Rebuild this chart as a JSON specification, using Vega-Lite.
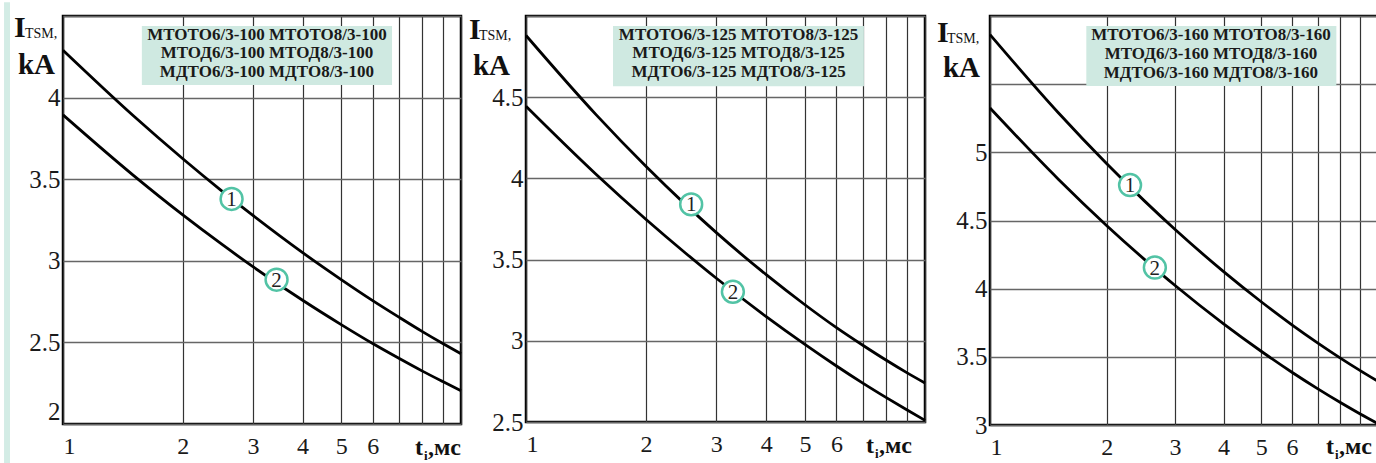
{
  "$schema": "https://vega.github.io/schema/vega-lite/v6.json",
  "background": "white",
  "padding": {"left": 2, "top": 0, "right": 0, "bottom": 0},
  "spacing": 65,
  "bounds": "flush",
  "config": {
    "view": {"stroke": "#000", "strokeWidth": 2.5},
    "font": "Liberation Serif, Times New Roman, serif",
    "axis": {"grid": true, "ticks": false, "domain": false, "labelFont": "Liberation Serif, Times New Roman, serif", "labelColor": "#1a1a1a", "format": "~g"},
    "axisX": {"labelPadding": 10, "labelFontSize": 24, "gridColor": "#333", "gridWidth": 1.2},
    "axisY": {"labelPadding": 3, "labelFontSize": 25, "gridColor": "#666", "gridWidth": 1.5},
    "text": {"font": "Liberation Serif, Times New Roman, serif"}
  },
  "hconcat": [
    {
      "width": 398, "height": 408,
      "encoding": {
        "x": {"field": "t", "type": "quantitative", "scale": {"type": "log", "domain": [1, 10], "nice": false}, "axis": {"values": [1,2,3,4,5,6,7,8,9,10], "labelExpr": "datum.value <= 6.5 ? datum.label : ''", "labelFlush": true, "title": null}},
        "y": {"field": "I", "type": "quantitative", "scale": {"domain": [2, 4.5], "nice": false, "zero": false}, "axis": {"values": [2,2.5,3,3.5,4,4.5], "labelExpr": "datum.value < 4.4 ? datum.label : ''", "labelFlush": true, "title": null}}
      },
      "layer": [
        {"data": {"values": [{"t": 0.711, "t2": 0.736, "I": 1.75, "I2": 4.585}]}, "mark": {"type": "rect", "fill": "#d3ece5"}, "encoding": {"x2": {"field": "t2"}, "y2": {"field": "I2"}}},
        {"data": {"values": [{"t": 1.578, "t2": 6.71, "I": 4.077, "I2": 4.439}]}, "mark": {"type": "rect", "fill": "#cfe9e1"}, "encoding": {"x2": {"field": "t2"}, "y2": {"field": "I2"}}},
        {"data": {"values": [
          {"c": "1", "t": 1, "I": 4.29}, {"c": "1", "t": 1.5, "I": 3.89}, {"c": "1", "t": 2, "I": 3.625}, {"c": "1", "t": 2.5, "I": 3.43}, {"c": "1", "t": 3, "I": 3.278}, {"c": "1", "t": 4, "I": 3.05}, {"c": "1", "t": 5, "I": 2.885}, {"c": "1", "t": 6, "I": 2.756}, {"c": "1", "t": 7, "I": 2.653}, {"c": "1", "t": 8, "I": 2.566}, {"c": "1", "t": 9, "I": 2.493}, {"c": "1", "t": 10, "I": 2.43},
          {"c": "2", "t": 1, "I": 3.894}, {"c": "2", "t": 1.5, "I": 3.525}, {"c": "2", "t": 2, "I": 3.281}, {"c": "2", "t": 2.5, "I": 3.103}, {"c": "2", "t": 3, "I": 2.964}, {"c": "2", "t": 4, "I": 2.758}, {"c": "2", "t": 5, "I": 2.609}, {"c": "2", "t": 6, "I": 2.493}, {"c": "2", "t": 7, "I": 2.401}, {"c": "2", "t": 8, "I": 2.324}, {"c": "2", "t": 9, "I": 2.26}, {"c": "2", "t": 10, "I": 2.204}
        ]}, "mark": {"type": "line", "color": "#000", "strokeWidth": 2.8, "interpolate": "monotone"}, "encoding": {"detail": {"field": "c"}}},
        {"data": {"values": [{"t": 2.652, "I": 3.379, "n": "1"}, {"t": 3.44, "I": 2.884, "n": "2"}]}, "mark": {"type": "point", "shape": "circle", "fill": "white", "fillOpacity": 1, "stroke": "#52c3a5", "strokeWidth": 2.5, "size": 480, "opacity": 1}},
        {"data": {"values": [{"t": 2.652, "I": 3.379, "n": "1"}, {"t": 3.44, "I": 2.884, "n": "2"}]}, "mark": {"type": "text", "fontSize": 21, "color": "#222", "baseline": "middle", "dy": 1}, "encoding": {"text": {"field": "n"}}},
        {"data": {"values": [{"t": 3.254, "I": 4.385, "label": "МТОТО6/3-100 МТОТО8/3-100\nМТОД6/3-100 МТОД8/3-100\nМДТО6/3-100 МДТО8/3-100"}]}, "mark": {"type": "text", "fontWeight": "bold", "fontSize": 17, "lineBreak": "\n", "lineHeight": 18.7, "baseline": "middle", "align": "center", "color": "#1a1a1a"}, "encoding": {"text": {"field": "label"}}},
        {"data": {"values": [{"t": 1, "I": 4.5, "s": "I"}]}, "mark": {"type": "text", "fontWeight": "bold", "fontSize": 30, "align": "left", "baseline": "alphabetic", "dx": -49, "dy": 21, "color": "#111"}, "encoding": {"text": {"field": "s"}}},
        {"data": {"values": [{"t": 1, "I": 4.5, "s": "TSM,"}]}, "mark": {"type": "text", "fontSize": 14, "align": "left", "baseline": "alphabetic", "dx": -38, "dy": 22, "color": "#111"}, "encoding": {"text": {"field": "s"}}},
        {"data": {"values": [{"t": 1, "I": 4.5, "s": "kA"}]}, "mark": {"type": "text", "fontWeight": "bold", "fontSize": 29, "align": "right", "baseline": "alphabetic", "dx": -8, "dy": 58, "color": "#111"}, "encoding": {"text": {"field": "s"}}},
        {"data": {"values": [{"t": 10, "I": 2, "s": "t"}]}, "mark": {"type": "text", "fontWeight": "bold", "fontSize": 24, "align": "left", "baseline": "alphabetic", "dx": -46, "dy": 31, "color": "#111"}, "encoding": {"text": {"field": "s"}}},
        {"data": {"values": [{"t": 10, "I": 2, "s": "i"}]}, "mark": {"type": "text", "fontWeight": "bold", "fontSize": 13, "align": "left", "baseline": "alphabetic", "dx": -37, "dy": 36, "color": "#111"}, "encoding": {"text": {"field": "s"}}},
        {"data": {"values": [{"t": 10, "I": 2, "s": ",мс"}]}, "mark": {"type": "text", "fontWeight": "bold", "fontSize": 24, "align": "left", "baseline": "alphabetic", "dx": -33, "dy": 31, "color": "#111"}, "encoding": {"text": {"field": "s"}}}
      ]
    },
    {
      "width": 399, "height": 406,
      "encoding": {
        "x": {"field": "t", "type": "quantitative", "scale": {"type": "log", "domain": [1, 10], "nice": false}, "axis": {"values": [1,2,3,4,5,6,7,8,9,10], "labelExpr": "datum.value <= 6.5 ? datum.label : ''", "labelFlush": true, "title": null}},
        "y": {"field": "I", "type": "quantitative", "scale": {"domain": [2.5, 5], "nice": false, "zero": false}, "axis": {"values": [2.5,3,3.5,4,4.5,5], "labelExpr": "datum.value < 4.9 ? datum.label : ''", "title": null}}
      },
      "layer": [
        {"data": {"values": [{"t": 1.652, "t2": 7.03, "I": 4.567, "I2": 4.938}]}, "mark": {"type": "rect", "fill": "#cfe9e1"}, "encoding": {"x2": {"field": "t2"}, "y2": {"field": "I2"}}},
        {"data": {"values": [
          {"c": "1", "t": 1, "I": 4.88}, {"c": "1", "t": 1.5, "I": 4.391}, {"c": "1", "t": 2, "I": 4.073}, {"c": "1", "t": 2.5, "I": 3.843}, {"c": "1", "t": 3, "I": 3.666}, {"c": "1", "t": 4, "I": 3.407}, {"c": "1", "t": 5, "I": 3.222}, {"c": "1", "t": 6, "I": 3.081}, {"c": "1", "t": 7, "I": 2.971}, {"c": "1", "t": 8, "I": 2.88}, {"c": "1", "t": 9, "I": 2.804}, {"c": "1", "t": 10, "I": 2.74},
          {"c": "2", "t": 1, "I": 4.444}, {"c": "2", "t": 1.5, "I": 4.024}, {"c": "2", "t": 2, "I": 3.747}, {"c": "2", "t": 2.5, "I": 3.544}, {"c": "2", "t": 3, "I": 3.385}, {"c": "2", "t": 4, "I": 3.149}, {"c": "2", "t": 5, "I": 2.978}, {"c": "2", "t": 6, "I": 2.845}, {"c": "2", "t": 7, "I": 2.738}, {"c": "2", "t": 8, "I": 2.65}, {"c": "2", "t": 9, "I": 2.575}, {"c": "2", "t": 10, "I": 2.51}
        ]}, "mark": {"type": "line", "color": "#000", "strokeWidth": 2.8, "interpolate": "monotone"}, "encoding": {"detail": {"field": "c"}}},
        {"data": {"values": [{"t": 2.594, "I": 3.84, "n": "1"}, {"t": 3.30, "I": 3.302, "n": "2"}]}, "mark": {"type": "point", "shape": "circle", "fill": "white", "fillOpacity": 1, "stroke": "#52c3a5", "strokeWidth": 2.5, "size": 480, "opacity": 1}},
        {"data": {"values": [{"t": 2.594, "I": 3.84, "n": "1"}, {"t": 3.30, "I": 3.302, "n": "2"}]}, "mark": {"type": "text", "fontSize": 21, "color": "#222", "baseline": "middle", "dy": 1}, "encoding": {"text": {"field": "n"}}},
        {"data": {"values": [{"t": 3.41, "I": 4.885, "label": "МТОТО6/3-125 МТОТО8/3-125\nМТОД6/3-125 МТОД8/3-125\nМДТО6/3-125 МДТО8/3-125"}]}, "mark": {"type": "text", "fontWeight": "bold", "fontSize": 17, "lineBreak": "\n", "lineHeight": 18.7, "baseline": "middle", "align": "center", "color": "#1a1a1a"}, "encoding": {"text": {"field": "label"}}},
        {"data": {"values": [{"t": 1, "I": 5, "s": "I"}]}, "mark": {"type": "text", "fontWeight": "bold", "fontSize": 30, "align": "left", "baseline": "alphabetic", "dx": -57, "dy": 23, "color": "#111"}, "encoding": {"text": {"field": "s"}}},
        {"data": {"values": [{"t": 1, "I": 5, "s": "TSM,"}]}, "mark": {"type": "text", "fontSize": 14, "align": "left", "baseline": "alphabetic", "dx": -47, "dy": 24, "color": "#111"}, "encoding": {"text": {"field": "s"}}},
        {"data": {"values": [{"t": 1, "I": 5, "s": "kA"}]}, "mark": {"type": "text", "fontWeight": "bold", "fontSize": 29, "align": "right", "baseline": "alphabetic", "dx": -16, "dy": 59, "color": "#111"}, "encoding": {"text": {"field": "s"}}},
        {"data": {"values": [{"t": 10, "I": 2.5, "s": "t"}]}, "mark": {"type": "text", "fontWeight": "bold", "fontSize": 24, "align": "left", "baseline": "alphabetic", "dx": -59, "dy": 31, "color": "#111"}, "encoding": {"text": {"field": "s"}}},
        {"data": {"values": [{"t": 10, "I": 2.5, "s": "i"}]}, "mark": {"type": "text", "fontWeight": "bold", "fontSize": 13, "align": "left", "baseline": "alphabetic", "dx": -50, "dy": 36, "color": "#111"}, "encoding": {"text": {"field": "s"}}},
        {"data": {"values": [{"t": 10, "I": 2.5, "s": ",мс"}]}, "mark": {"type": "text", "fontWeight": "bold", "fontSize": 24, "align": "left", "baseline": "alphabetic", "dx": -46, "dy": 31, "color": "#111"}, "encoding": {"text": {"field": "s"}}}
      ]
    },
    {
      "width": 388, "height": 409,
      "encoding": {
        "x": {"field": "t", "type": "quantitative", "scale": {"type": "log", "domain": [1, 10], "nice": false}, "axis": {"values": [1,2,3,4,5,6,7,8,9,10], "labelExpr": "datum.value <= 6.5 ? datum.label : ''", "labelFlush": true, "title": null}},
        "y": {"field": "I", "type": "quantitative", "scale": {"domain": [3, 6], "nice": false, "zero": false}, "axis": {"values": [3,3.5,4,4.5,5,5.5,6], "labelExpr": "datum.value < 5.4 ? datum.label : ''", "title": null}}
      },
      "layer": [
        {"data": {"values": [{"t": 1.771, "t2": 7.81, "I": 5.486, "I2": 5.927}]}, "mark": {"type": "rect", "fill": "#cfe9e1"}, "encoding": {"x2": {"field": "t2"}, "y2": {"field": "I2"}}},
        {"data": {"values": [
          {"c": "1", "t": 1, "I": 5.863}, {"c": "1", "t": 1.5, "I": 5.29}, {"c": "1", "t": 2, "I": 4.916}, {"c": "1", "t": 2.5, "I": 4.644}, {"c": "1", "t": 3, "I": 4.434}, {"c": "1", "t": 4, "I": 4.125}, {"c": "1", "t": 5, "I": 3.904}, {"c": "1", "t": 6, "I": 3.735}, {"c": "1", "t": 7, "I": 3.601}, {"c": "1", "t": 8, "I": 3.491}, {"c": "1", "t": 9, "I": 3.399}, {"c": "1", "t": 10, "I": 3.32},
          {"c": "2", "t": 1, "I": 5.325}, {"c": "2", "t": 1.5, "I": 4.803}, {"c": "2", "t": 2, "I": 4.462}, {"c": "2", "t": 2.5, "I": 4.215}, {"c": "2", "t": 3, "I": 4.023}, {"c": "2", "t": 4, "I": 3.742}, {"c": "2", "t": 5, "I": 3.541}, {"c": "2", "t": 6, "I": 3.387}, {"c": "2", "t": 7, "I": 3.265}, {"c": "2", "t": 8, "I": 3.165}, {"c": "2", "t": 9, "I": 3.081}, {"c": "2", "t": 10, "I": 3.01}
        ]}, "mark": {"type": "line", "color": "#000", "strokeWidth": 2.8, "interpolate": "monotone"}, "encoding": {"detail": {"field": "c"}}},
        {"data": {"values": [{"t": 2.296, "I": 4.76, "n": "1"}, {"t": 2.66, "I": 4.155, "n": "2"}]}, "mark": {"type": "point", "shape": "circle", "fill": "white", "fillOpacity": 1, "stroke": "#52c3a5", "strokeWidth": 2.5, "size": 480, "opacity": 1}},
        {"data": {"values": [{"t": 2.296, "I": 4.76, "n": "1"}, {"t": 2.66, "I": 4.155, "n": "2"}]}, "mark": {"type": "text", "fontSize": 21, "color": "#222", "baseline": "middle", "dy": 1}, "encoding": {"text": {"field": "n"}}},
        {"data": {"values": [{"t": 3.71, "I": 5.858, "label": "МТОТО6/3-160 МТОТО8/3-160\nМТОД6/3-160 МТОД8/3-160\nМДТО6/3-160 МДТО8/3-160"}]}, "mark": {"type": "text", "fontWeight": "bold", "fontSize": 17, "lineBreak": "\n", "lineHeight": 18.7, "baseline": "middle", "align": "center", "color": "#1a1a1a"}, "encoding": {"text": {"field": "label"}}},
        {"data": {"values": [{"t": 1, "I": 6, "s": "I"}]}, "mark": {"type": "text", "fontWeight": "bold", "fontSize": 30, "align": "left", "baseline": "alphabetic", "dx": -53, "dy": 26, "color": "#111"}, "encoding": {"text": {"field": "s"}}},
        {"data": {"values": [{"t": 1, "I": 6, "s": "TSM,"}]}, "mark": {"type": "text", "fontSize": 14, "align": "left", "baseline": "alphabetic", "dx": -43, "dy": 27, "color": "#111"}, "encoding": {"text": {"field": "s"}}},
        {"data": {"values": [{"t": 1, "I": 6, "s": "kA"}]}, "mark": {"type": "text", "fontWeight": "bold", "fontSize": 29, "align": "right", "baseline": "alphabetic", "dx": -10, "dy": 61, "color": "#111"}, "encoding": {"text": {"field": "s"}}},
        {"data": {"values": [{"t": 10, "I": 3, "s": "t"}]}, "mark": {"type": "text", "fontWeight": "bold", "fontSize": 24, "align": "left", "baseline": "alphabetic", "dx": -52, "dy": 29, "color": "#111"}, "encoding": {"text": {"field": "s"}}},
        {"data": {"values": [{"t": 10, "I": 3, "s": "i"}]}, "mark": {"type": "text", "fontWeight": "bold", "fontSize": 13, "align": "left", "baseline": "alphabetic", "dx": -43, "dy": 34, "color": "#111"}, "encoding": {"text": {"field": "s"}}},
        {"data": {"values": [{"t": 10, "I": 3, "s": ",мс"}]}, "mark": {"type": "text", "fontWeight": "bold", "fontSize": 24, "align": "left", "baseline": "alphabetic", "dx": -39, "dy": 29, "color": "#111"}, "encoding": {"text": {"field": "s"}}}
      ]
    }
  ]
}
